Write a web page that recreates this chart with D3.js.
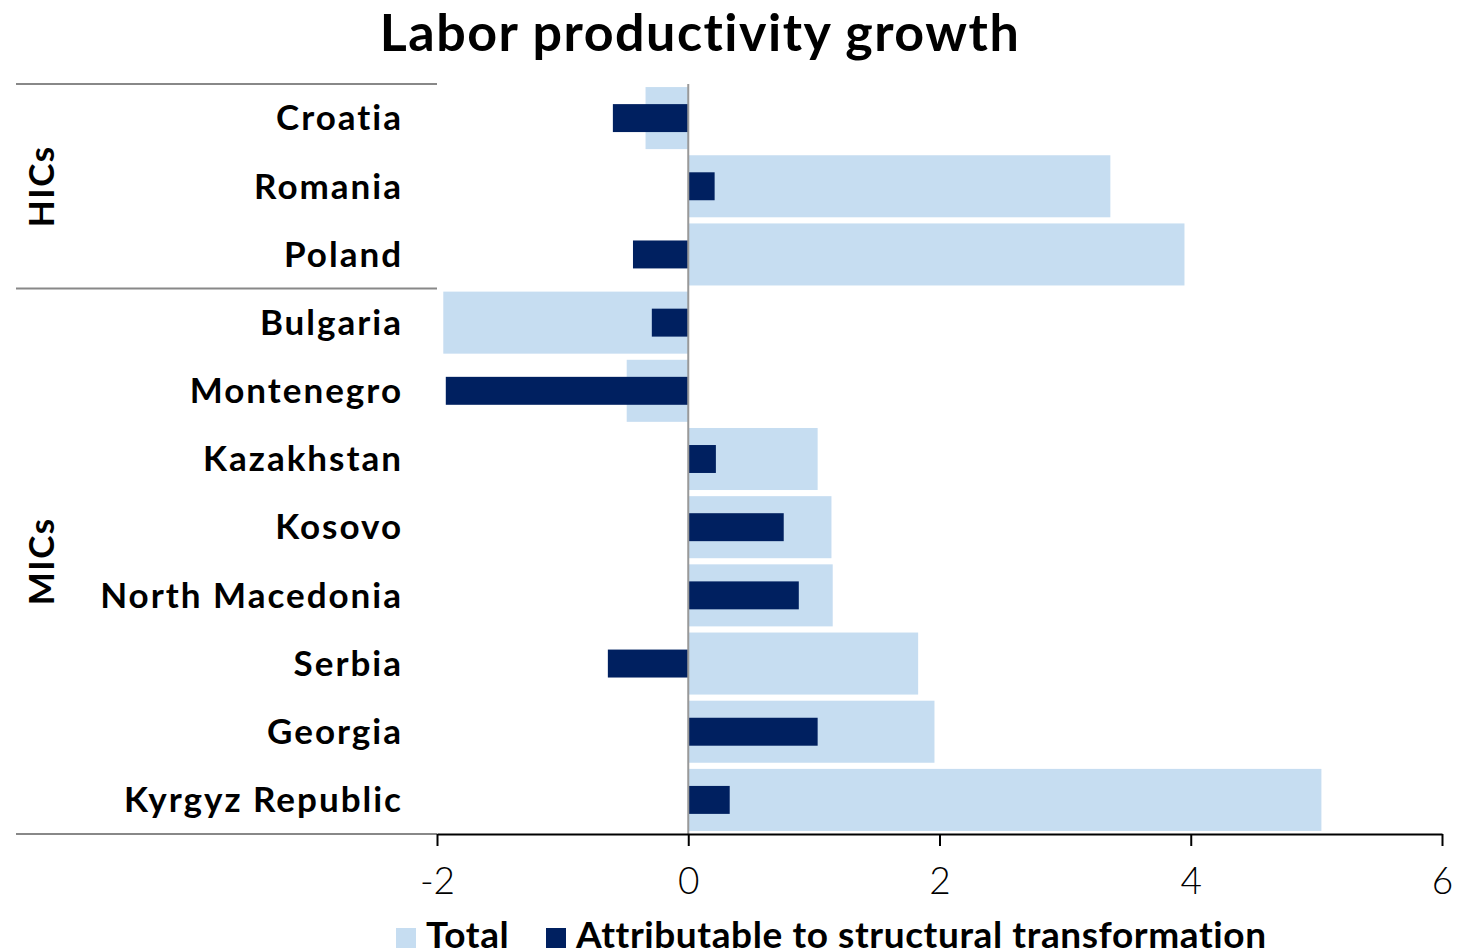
<!DOCTYPE html>
<html>
<head>
<meta charset="utf-8">
<script src="https://cdn.jsdelivr.net/npm/d3@7"></script>
<style>
  html, body { margin: 0; padding: 0; background: #fff; }
  svg { display: block; font-family: Lato, "Open Sans", sans-serif; font-variant-ligatures: none; }
</style>
</head>
<body>
<svg id="chart" width="1458" height="952"></svg>
<script>
// Countries, top to bottom
const countries = ["Croatia", "Romania", "Poland", "Bulgaria", "Montenegro", "Kazakhstan",
  "Kosovo", "North Macedonia", "Serbia", "Georgia", "Kyrgyz Republic"];
// Total labor productivity growth
const totalGrowth = [-0.34, 3.36, 3.95, -1.95, -0.49, 1.03, 1.14, 1.15, 1.83, 1.96, 5.04];
// Part attributable to structural transformation
const structuralGrowth = [-0.60, 0.21, -0.44, -0.29, -1.93, 0.22, 0.76, 0.88, -0.64, 1.03, 0.33];
// Income groups and the countries they span
const groupNames = ["HICs", "MICs"];
const groupFirst = ["Croatia", "Bulgaria"];
const groupLast = ["Poland", "Kyrgyz Republic"];
const xTicks = [-2, 0, 2, 4, 6];
const seriesNames = ["Total", "Attributable to structural transformation"];

const LIGHT = "#c6ddf1";
const DARK = "#002060";

const svg = d3.select("#chart");
const plotLeft = 437, plotRight = 1442, plotTop = 84, plotBottom = 834;

const x = d3.scaleLinear().domain([-2, 6]).range([plotLeft, plotRight]);
const y = d3.scaleBand().domain(countries).range([plotTop, plotBottom]).padding(0);
const step = y.step();

const rows = countries.map((c, i) => ({ c, total: totalGrowth[i], st: structuralGrowth[i] }));

// Title
svg.append("text")
  .attr("x", 700).attr("y", 51)
  .attr("text-anchor", "middle")
  .attr("font-size", 52).attr("font-weight", 700)
  .attr("letter-spacing", 1.5)
  .text("Labor productivity growth");

// Total bars
svg.append("g").selectAll("rect").data(rows).join("rect")
  .attr("x", d => x(Math.min(0, d.total)))
  .attr("width", d => Math.abs(x(d.total) - x(0)))
  .attr("y", d => y(d.c) + step * 0.045)
  .attr("height", step * 0.91)
  .attr("fill", LIGHT);

// Structural bars
svg.append("g").selectAll("rect").data(rows).join("rect")
  .attr("x", d => x(Math.min(0, d.st)))
  .attr("width", d => Math.abs(x(d.st) - x(0)))
  .attr("y", d => y(d.c) + step * 0.5 - step * 0.205)
  .attr("height", step * 0.41)
  .attr("fill", DARK);

// Zero line
svg.append("line")
  .attr("x1", x(0)).attr("x2", x(0))
  .attr("y1", plotTop).attr("y2", plotBottom)
  .attr("stroke", "#999").attr("stroke-width", 2);

// Category labels
svg.append("g").selectAll("text").data(countries).join("text")
  .attr("x", 403)
  .attr("y", d => y(d) + step / 2)
  .attr("dy", "0.35em")
  .attr("text-anchor", "end")
  .attr("font-size", 35).attr("font-weight", 700)
  .attr("letter-spacing", 2)
  .text(d => d);

// Group separators on the left
const sepYs = [plotTop, y(groupFirst[1]), plotBottom];
svg.append("g").selectAll("line").data(sepYs).join("line")
  .attr("x1", 16).attr("x2", plotLeft)
  .attr("y1", d => d).attr("y2", d => d)
  .attr("stroke", "#888").attr("stroke-width", 2);

// Group labels
groupNames.forEach((g, i) => {
  const cy = (y(groupFirst[i]) + y(groupLast[i]) + step) / 2;
  svg.append("text")
    .attr("transform", `translate(42,${cy}) rotate(-90)`)
    .attr("text-anchor", "middle")
    .attr("dy", "0.35em")
    .attr("font-size", 35).attr("font-weight", 700)
    .attr("letter-spacing", 1.5)
    .text(g);
});

// X axis
const axis = svg.append("g")
  .attr("transform", `translate(0,${plotBottom})`)
  .call(d3.axisBottom(x).tickValues(xTicks).tickSize(12).tickSizeOuter(0).tickPadding(22)
    .tickFormat(d => String(d)));
axis.select(".domain").attr("stroke", "#000").attr("stroke-width", 2);
axis.selectAll(".tick line").attr("stroke", "#000").attr("stroke-width", 2);
axis.selectAll(".tick text")
  .attr("fill", "#000")
  .attr("font-family", "Lato, sans-serif")
  .attr("font-size", 37).attr("font-weight", 300);

// Legend
const legend = svg.append("g");
const legendItems = [
  { name: seriesNames[0], color: LIGHT, x: 396 },
  { name: seriesNames[1], color: DARK, x: 546 }
];
legendItems.forEach(it => {
  legend.append("rect")
    .attr("x", it.x).attr("y", 928).attr("width", 20).attr("height", 20)
    .attr("fill", it.color);
  legend.append("text")
    .attr("x", it.x + 30).attr("y", 948)
    .attr("font-size", 37).attr("font-weight", 700)
    .attr("letter-spacing", 0.6)
    .text(it.name);
});
</script>
</body>
</html>
